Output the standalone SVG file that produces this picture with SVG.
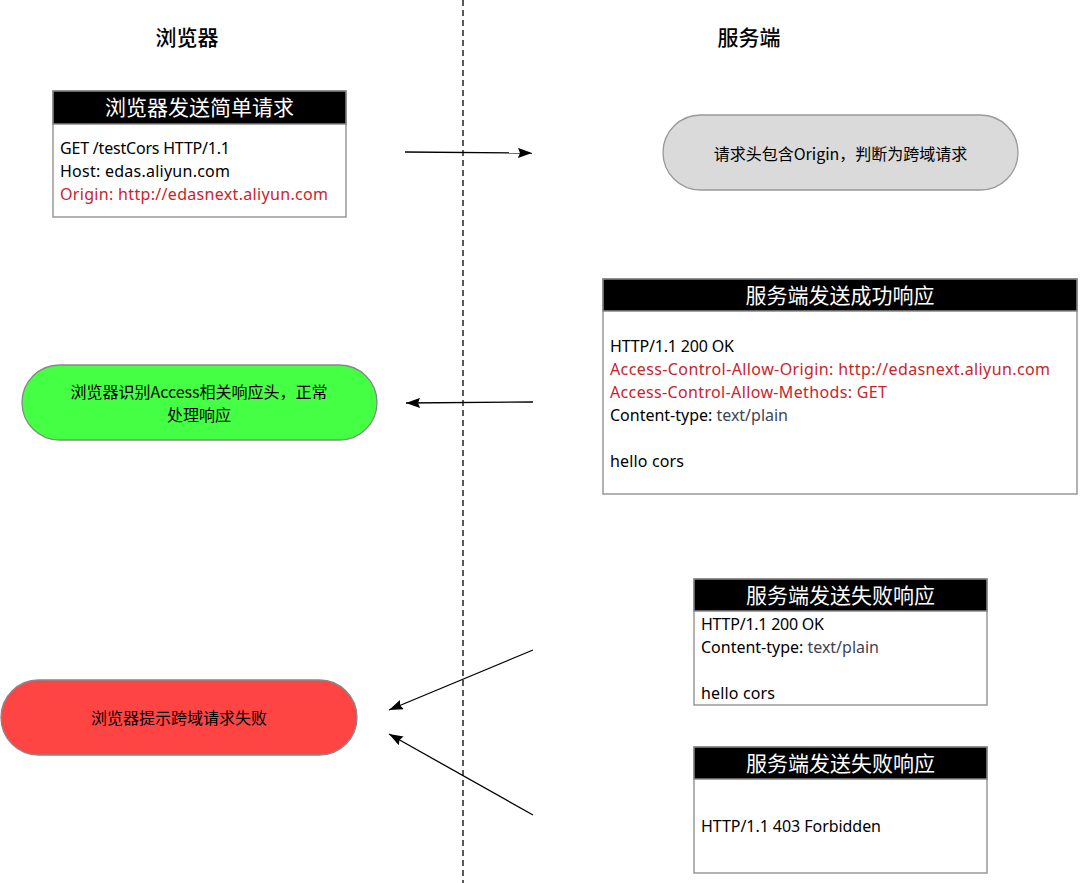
<svg xmlns="http://www.w3.org/2000/svg" width="1080" height="883" viewBox="0 0 1080 883">
<defs>
<marker id="arr" markerWidth="14" markerHeight="10" refX="14" refY="5" orient="auto" markerUnits="userSpaceOnUse">
<path d="M0,0 L14,5 L0,10 L2,5 Z" fill="#000"/>
</marker>
<style>
text{font-family:"Noto Sans","Noto Sans CJK SC",sans-serif;}
.col{font-size:21px;font-weight:500;fill:#000;text-anchor:middle;font-family:"Noto Sans CJK SC",sans-serif;}
.hd{fill:#000;stroke:#888;stroke-width:1.5;}
.box{fill:#fff;stroke:#999;stroke-width:1.5;}
.ht{font-size:21px;fill:#fff;text-anchor:middle;font-family:"Noto Sans CJK SC",sans-serif;}
.ln{font-size:16px;fill:#000;}
.red{fill:#c8242c;}
.gr{fill:#3c4452;}
.pt{font-size:16px;fill:#000;text-anchor:middle;font-family:"Noto Sans CJK SC",sans-serif;}
.con{stroke:#000;stroke-width:1.3;fill:none;marker-end:url(#arr);}
</style>
</defs>
<rect width="1080" height="883" fill="#fff"/>
<line x1="463" y1="0" x2="463" y2="883" stroke="#000" stroke-width="1.3" stroke-dasharray="6,4"/>
<text class="col" x="187" y="45">浏览器</text>
<text class="col" x="749" y="45">服务端</text>

<g id="req">
<rect class="box" x="53" y="91" width="293" height="126"/>
<rect class="hd" x="53" y="91" width="293" height="33"/>
<text class="ht" x="199.500" y="115">浏览器发送简单请求</text>
<text class="ln" x="60" y="154" textLength="170" lengthAdjust="spacing">GET /testCors HTTP/1.1</text>
<text class="ln" x="60" y="177" textLength="170" lengthAdjust="spacing">Host: edas.aliyun.com</text>
<text class="ln red" x="60" y="200" textLength="268" lengthAdjust="spacing">Origin: http://edasnext.aliyun.com</text>
</g>

<g id="judge">
<rect x="663" y="115" width="355" height="75" rx="37.5" fill="#dadada" stroke="#999" stroke-width="1.3"/>
<text class="pt" x="840.500" y="159.500">请求头包含Origin，判断为跨域请求</text>
</g>

<g id="ok">
<rect class="box" x="603" y="279" width="474" height="215"/>
<rect class="hd" x="603" y="279" width="474" height="32"/>
<text class="ht" x="840" y="302.500">服务端发送成功响应</text>
<text class="ln" x="610" y="352" textLength="124" lengthAdjust="spacing">HTTP/1.1 200 OK</text>
<text class="ln red" x="610" y="375" textLength="440" lengthAdjust="spacing">Access-Control-Allow-Origin: http://edasnext.aliyun.com</text>
<text class="ln red" x="610" y="398" textLength="277" lengthAdjust="spacing">Access-Control-Allow-Methods: GET</text>
<text class="ln" x="610" y="421" textLength="178" lengthAdjust="spacing">Content-type: <tspan class="gr">text/plain</tspan></text>
<text class="ln" x="610" y="467" textLength="74" lengthAdjust="spacing">hello cors</text>
</g>

<g id="accept">
<rect x="22" y="365" width="355" height="75" rx="37.5" fill="#44ff44" stroke="#888" stroke-width="1.3"/>
<text class="pt" x="199" y="397.500">浏览器识别Access相关响应头，正常</text>
<text class="pt" x="199" y="420.500">处理响应</text>
</g>

<g id="fail1">
<rect class="box" x="694" y="579" width="293" height="126"/>
<rect class="hd" x="694" y="579" width="293" height="32"/>
<text class="ht" x="840.500" y="602.500">服务端发送失败响应</text>
<text class="ln" x="701" y="630" textLength="123" lengthAdjust="spacing">HTTP/1.1 200 OK</text>
<text class="ln" x="701" y="653" textLength="178" lengthAdjust="spacing">Content-type: <tspan class="gr">text/plain</tspan></text>
<text class="ln" x="701" y="699" textLength="74" lengthAdjust="spacing">hello cors</text>
</g>

<g id="fail2">
<rect class="box" x="694" y="747" width="293" height="126"/>
<rect class="hd" x="694" y="747" width="293" height="32"/>
<text class="ht" x="840.500" y="770.500">服务端发送失败响应</text>
<text class="ln" x="701" y="832" textLength="180" lengthAdjust="spacing">HTTP/1.1 403 Forbidden</text>
</g>

<g id="reject">
<rect x="1" y="680" width="356" height="75" rx="37.5" fill="#ff4444" stroke="#888" stroke-width="1.3"/>
<text class="pt" x="179" y="723.500" textLength="176" lengthAdjust="spacingAndGlyphs">浏览器提示跨域请求失败</text>
</g>

<g id="connectors">
<line class="con" x1="405" y1="152" x2="532" y2="153"/>
<line class="con" x1="533" y1="402" x2="406" y2="403"/>
<line class="con" x1="533" y1="650" x2="389" y2="710"/>
<line class="con" x1="533" y1="815" x2="389" y2="734"/>
</g>
</svg>
